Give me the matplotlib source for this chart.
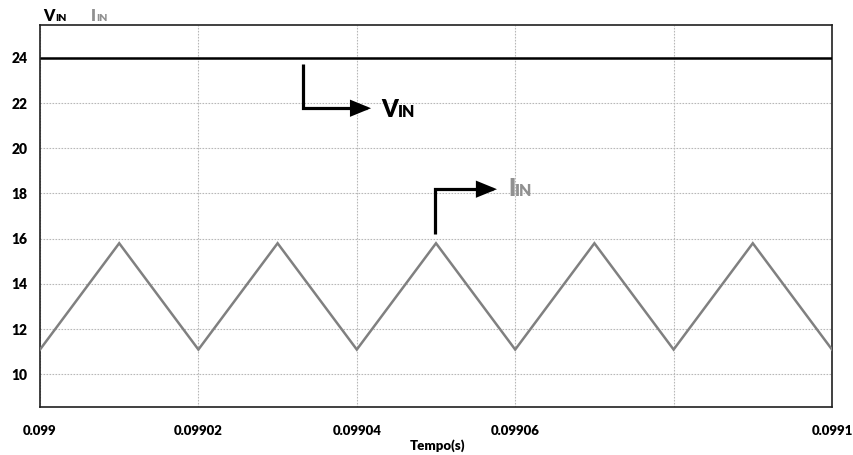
import matplotlib
matplotlib.use("Agg")
import matplotlib.pyplot as plt
from matplotlib.patches import FancyArrowPatch
from matplotlib.path import Path

# Input voltage and input current of the converter over one window
tempo = [0.099, 0.09901, 0.09902, 0.09903, 0.09904, 0.09905,
         0.09906, 0.09907, 0.09908, 0.09909, 0.0991]
i_in = [11.1, 15.8, 11.1, 15.8, 11.1, 15.8, 11.1, 15.8, 11.1, 15.8, 11.1]
tempo_v = [0.099, 0.0991]
v_in = [24.0, 24.0]

x_ticks = [0.099, 0.09902, 0.09904, 0.09906, 0.09908, 0.0991]
x_labels = ["0.099", "0.09902", "0.09904", "0.09906", "", "0.0991"]
y_ticks = [10, 12, 14, 16, 18, 20, 22, 24]
y_labels = ["10", "12", "14", "16", "18", "20", "22", "24"]

FONT = "Lato"
WEIGHT = "heavy"
W, H = 854, 455
fig = plt.figure(figsize=(W / 100, H / 100), dpi=100)
ax = fig.add_axes([40 / W, 1 - 407 / H, 792 / W, 382 / H])

ax.plot(tempo_v, v_in, color="black", lw=1.8, solid_capstyle="butt", zorder=3)
ax.plot(tempo, i_in, color="#808080", lw=1.8, solid_joinstyle="miter", zorder=3)

ax.set_xlim(0.099, 0.0991)
ax.set_ylim(8.56, 25.45)
ax.set_xticks(x_ticks)
ax.set_xticklabels(x_labels, fontfamily=FONT, fontweight=WEIGHT, fontsize=9.5)
ax.set_yticks(y_ticks)
ax.set_yticklabels(y_labels, fontfamily=FONT, fontweight=WEIGHT, fontsize=10)
ax.tick_params(axis="both", length=0)
ax.tick_params(axis="x", pad=13)
ax.tick_params(axis="y", pad=9)

ax.grid(True, color="#b8b8b8", lw=0.8, linestyle=(0, (1.5, 1.2)))
ax.set_axisbelow(True)
for s in ax.spines.values():
    s.set_linewidth(1.2)
    s.set_color("#202020")

fig.text(438 / W, 1 - 446 / H, "Tempo(s)", ha="center", va="center",
         fontfamily=FONT, fontweight=WEIGHT, fontsize=9.5)


def label(x_px, y_px, big, small, color, big_size, small_size, gap):
    """Draw a label like V_IN with the suffix in small caps on the same baseline."""
    fig.text(x_px / W, 1 - y_px / H, big, ha="left", va="baseline",
             fontfamily=FONT, fontweight=WEIGHT, fontsize=big_size, color=color)
    fig.text((x_px + gap) / W, 1 - y_px / H, small, ha="left", va="baseline",
             fontfamily=FONT, fontweight=WEIGHT, fontsize=small_size, color=color)


# Series names at the top of the plot
label(43, 21, "V", "IN", "black", 11.5, 7.5, 12.5)
label(91, 21, "I", "IN", "#909090", 11.5, 7.5, 5)

# Annotation arrows pointing at each trace
def l_arrow(points):
    arr = FancyArrowPatch(path=Path(points), arrowstyle="-|>,head_length=1.1,head_width=0.45",
                          mutation_scale=10, lw=2.3, color="black",
                          joinstyle="miter", capstyle="butt", transform=ax.transData,
                          zorder=5)
    ax.add_patch(arr)


l_arrow([(0.0990332, 23.72), (0.0990332, 21.77), (0.0990418, 21.77)])
l_arrow([(0.0990499, 16.22), (0.0990499, 18.19), (0.0990577, 18.19)])

label(381, 117, "V", "IN", "black", 17, 11.5, 17)
label(508, 196, "I", "IN", "#909090", 17, 11.5, 7)

fig.savefig("out.png", dpi=100)
